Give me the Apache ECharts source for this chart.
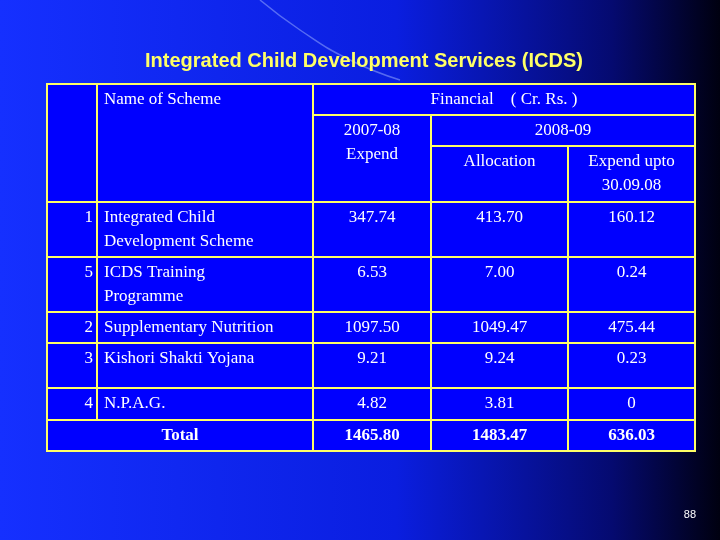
<!DOCTYPE html>
<html><head><meta charset="utf-8">
<script src="https://cdn.jsdelivr.net/npm/echarts@6/dist/echarts.min.js"></script>
<style>html,body{margin:0;padding:0}#c{width:720px;height:540px}</style>
</head><body><div id="c"></div>
<script>
const title = 'Integrated Child Development Services (ICDS)';
const serialNos = ['1','5','2','3','4'];
const schemes = ['Integrated Child\nDevelopment Scheme','ICDS Training\nProgramme','Supplementary Nutrition','Kishori Shakti Yojana','N.P.A.G.'];
const expend0708 = ['347.74','6.53','1097.50','9.21','4.82'];
const alloc0809 = ['413.70','7.00','1049.47','9.24','3.81'];
const expendUpto = ['160.12','0.24','475.44','0.23','0'];
const totals = ['1465.80','1483.47','636.03'];
const headers = ['Name of Scheme','Financial    ( Cr. Rs. )','2007-08\nExpend','2008-09','Allocation','Expend upto\n30.09.08'];
const pageNo = '88';

// layout (page pixel grid boundaries)
const colX = [47,97,313,431,568,695];
const rowY = [84,115,146,202,257,312,343,388,420,451];

const cells = [];
function cell(c0,c1,r0,r1,text,align,bold){cells.push([c0,c1,r0,r1,text,align||'center',bold?1:0]);}
cell(0,1,0,3,'');
cell(1,2,0,3,headers[0],'left');
cell(2,5,0,1,headers[1]);
cell(2,3,1,3,headers[2]);
cell(3,5,1,2,headers[3]);
cell(3,4,2,3,headers[4]);
cell(4,5,2,3,headers[5]);
for(let i=0;i<schemes.length;i++){
  const r=3+i;
  cell(0,1,r,r+1,serialNos[i],'right');
  cell(1,2,r,r+1,schemes[i],'left');
  cell(2,3,r,r+1,expend0708[i]);
  cell(3,4,r,r+1,alloc0809[i]);
  cell(4,5,r,r+1,expendUpto[i]);
}
cell(0,2,8,9,'Total','center',true);
cell(2,3,8,9,totals[0],'center',true);
cell(3,4,8,9,totals[1],'center',true);
cell(4,5,8,9,totals[2],'center',true);

const chart = echarts.init(document.getElementById('c'));
chart.setOption({
  backgroundColor:{type:'linear',x:0,y:0,x2:1,y2:0,colorStops:[
    {offset:0,color:'#1530ff'},{offset:0.55,color:'#0a1ee0'},{offset:0.85,color:'#050a70'},{offset:1,color:'#000010'}]},
  title:{text:title,left:359,top:46,textAlign:'center',
    textStyle:{fontFamily:'Liberation Sans',fontWeight:'bold',fontSize:20,color:'#ffff66',
      textShadowColor:'rgba(0,0,0,0.8)',textShadowOffsetX:1.5,textShadowOffsetY:1.5,textShadowBlur:0}},
  graphic:[{type:'text',right:24,bottom:20,style:{text:pageNo,fill:'#ffffff',fontSize:11,fontFamily:'Liberation Sans'}},
    {type:'polyline',silent:true,shape:{points:[[260,0],[300,30],[350,60],[400,80]],smooth:0.5},style:{stroke:'rgba(160,180,255,0.5)',lineWidth:1.5,fill:null}}],
  grid:{left:0,right:0,top:0,bottom:0},
  xAxis:{type:'value',min:0,max:720,show:false},
  yAxis:{type:'value',min:0,max:540,inverse:true,show:false},
  series:[{type:'custom',data:cells,renderItem:function(params,api){
    const d=cells[params.dataIndex];
    const p0=api.coord([colX[d[0]],rowY[d[2]]]);
    const p1=api.coord([colX[d[1]],rowY[d[3]]]);
    const w=p1[0]-p0[0],h=p1[1]-p0[1];
    const al=d[5];
    let tx = al==='left'?p0[0]+7:(al==='right'?p1[0]-4:(p0[0]+p1[0])/2);
    return {type:'group',children:[
      {type:'rect',shape:{x:p0[0],y:p0[1],width:w,height:h},style:{fill:'#0000ff',stroke:'#ffff66',lineWidth:2}},
      {type:'text',style:{text:d[4],x:tx,y:p0[1]+4,align:al,verticalAlign:'top',fill:'#ffffff',
        font:(d[6]?'bold ':'')+'17px "Liberation Serif"',lineHeight:24,
        textShadowColor:'rgba(0,0,60,0.9)',textShadowOffsetX:1,textShadowOffsetY:1}}
    ]};
  }}]
});
</script></body></html>
